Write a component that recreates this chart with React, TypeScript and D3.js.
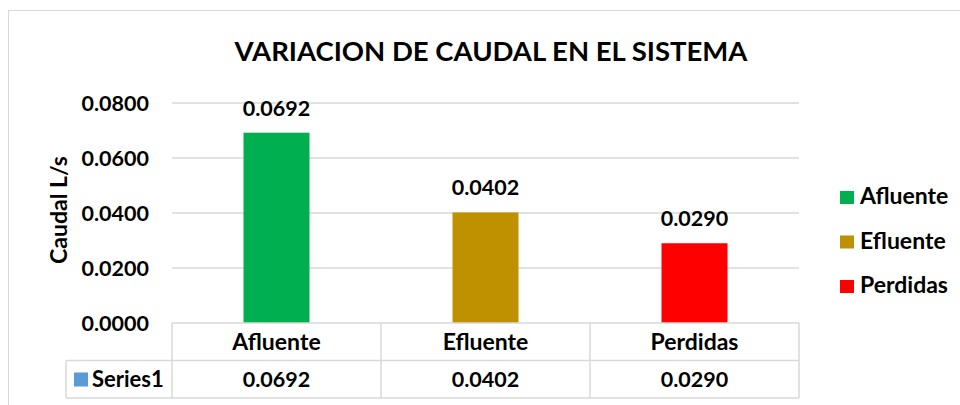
import React from "react";
import * as d3 from "d3";

const categories = ["Afluente", "Efluente", "Perdidas"];
const values = [0.0692, 0.0402, 0.029];
const colors = ["#00B050", "#BF9000", "#FF0000"];
const yTicks = [0, 0.02, 0.04, 0.06, 0.08];
const seriesName = "Series1";
const title = "VARIACION DE CAUDAL EN EL SISTEMA";
const yTitle = "Caudal L/s";

const W = 960;
const H = 405;
const FONT = "Lato, 'Liberation Sans', sans-serif";
const NUM = 21.5;
const WORD = 23;

export default function App() {
  const x = d3.scaleBand().domain(categories).range([172, 799]).paddingInner(0).paddingOuter(0);
  const y = d3.scaleLinear().domain([0, 0.08]).range([323, 103]);
  const barW = 66;
  const rowH = 37.5;
  const tableTop = y(0);
  const fmt = d3.format(".4f");

  return (
    <svg width={W} height={H} style={{ position: "absolute", left: 0, top: 0 }} fontFamily={FONT}>
      <rect x={0} y={0} width={W} height={H} fill="#fff" />
      <rect x={8.5} y={10.5} width={W + 10} height={H + 10} fill="none" stroke="#D9D9D9" strokeWidth={1} />
      <text x={491} y={61} textAnchor="middle" fontSize={27.5} fontWeight={700} fill="#000">{title}</text>
      {yTicks.map((t) => (
        <g key={t}>
          {t > 0 && <line x1={172} x2={799} y1={y(t)} y2={y(t)} stroke="#D9D9D9" strokeWidth={1.5} />}
          <text x={149} y={y(t) + 8} textAnchor="end" fontSize={NUM} fontWeight={700} fill="#000">{fmt(t)}</text>
        </g>
      ))}
      <text transform={`translate(67,${210}) rotate(-90)`} textAnchor="middle" fontSize={WORD} fontWeight={700} fill="#000">{yTitle}</text>
      {categories.map((c, i) => {
        const cx = (x(c) as number) + x.bandwidth() / 2;
        return (
          <g key={c}>
            <rect x={cx - barW / 2} y={y(values[i])} width={barW} height={y(0) - y(values[i])} fill={colors[i]} />
            <text x={cx} y={y(values[i]) - 17} textAnchor="middle" fontSize={NUM} fontWeight={700} fill="#000">{fmt(values[i])}</text>
          </g>
        );
      })}
      {/* data table */}
      <g stroke="#D9D9D9" strokeWidth={1.5} fill="none">
        <line x1={172} x2={799} y1={tableTop} y2={tableTop} />
        <line x1={66} x2={799} y1={tableTop + rowH} y2={tableTop + rowH} />
        <line x1={66} x2={799} y1={tableTop + 2 * rowH} y2={tableTop + 2 * rowH} />
        <line x1={66} x2={66} y1={tableTop + rowH} y2={tableTop + 2 * rowH} />
        <line x1={172} x2={172} y1={tableTop} y2={tableTop + 2 * rowH} />
        {categories.map((c) => (
          <line key={c} x1={(x(c) as number) + x.bandwidth()} x2={(x(c) as number) + x.bandwidth()} y1={tableTop} y2={tableTop + 2 * rowH} />
        ))}
      </g>
      {categories.map((c, i) => {
        const cx = (x(c) as number) + x.bandwidth() / 2;
        return (
          <g key={c}>
            <text x={cx} y={tableTop + 27} textAnchor="middle" fontSize={WORD} fontWeight={700} fill="#000">{c}</text>
            <text x={cx} y={tableTop + rowH + 26} textAnchor="middle" fontSize={NUM} fontWeight={700} fill="#000">{fmt(values[i])}</text>
          </g>
        );
      })}
      <rect x={74} y={tableTop + rowH + 12} width={14} height={14} fill="#5B9BD5" />
      <text x={92} y={tableTop + rowH + 26} fontSize={22} fontWeight={700} fill="#000">{seriesName}</text>
      {/* legend */}
      {categories.map((c, i) => (
        <g key={c}>
          <rect x={840} y={191 + i * 44.5} width={14} height={13} fill={colors[i]} />
          <text x={860} y={204 + i * 44.5} fontSize={WORD} fontWeight={700} fill="#000">{c}</text>
        </g>
      ))}
    </svg>
  );
}
